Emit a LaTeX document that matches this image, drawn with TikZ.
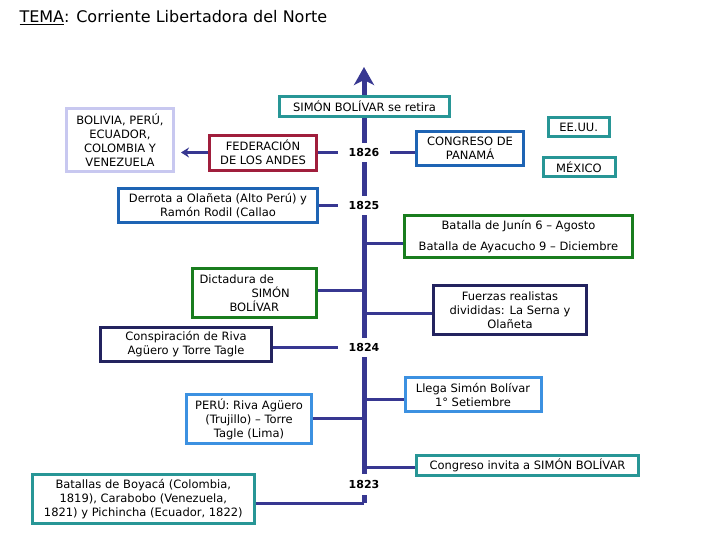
\documentclass[tikz,border=0pt]{standalone}
\usepackage{fontspec}
\setmainfont{DejaVu Sans}
\usetikzlibrary{arrows.meta}

\definecolor{ejeazul}{RGB}{55,55,145}
\definecolor{turquesa}{RGB}{40,150,150}
\definecolor{lavanda}{RGB}{200,200,240}
\definecolor{granate}{RGB}{160,30,60}
\definecolor{azul}{RGB}{30,100,180}
\definecolor{verde}{RGB}{25,125,30}
\definecolor{marino}{RGB}{35,35,95}
\definecolor{celeste}{RGB}{60,145,225}

\begin{document}
\begin{tikzpicture}[x=1pt,y=-1pt,
  caja/.style={draw,line width=3pt,fill=white,inner sep=0pt,align=center,
    font=\fontsize{11.5}{14}\selectfont},
  enlace/.style={draw=ejeazul,line width=3pt},
  anio/.style={fill=white,inner sep=0pt,minimum width=52pt,minimum height=19pt,
    font=\fontsize{11}{13}\selectfont\bfseries}]
  \useasboundingbox (0,0) rectangle (728,546);

  \node[anchor=base west,font=\fontsize{16}{19}\selectfont] (tema) at (16,23)
    {\underline{TEMA}: Corriente Libertadora del Norte};

  \coordinate (ejebase) at (364,503);
  \coordinate (ejetope) at (364,67);
  \coordinate (p1826) at (364,152);
  \coordinate (p1825) at (364,205);
  \coordinate (pjunin) at (364,243);
  \coordinate (pdicta) at (364,290);
  \coordinate (pfuerzas) at (364,313);
  \coordinate (p1824) at (364,347);
  \coordinate (pllega) at (364,399);
  \coordinate (pperu) at (364,418);
  \coordinate (pinvita) at (364,467.5);
  \coordinate (p1823) at (364,484);

  \draw[ejeazul,line width=5pt,-{Stealth[length=18pt,width=20pt,inset=5pt]}] (ejebase) -- (ejetope);

  \node[caja,draw=turquesa,minimum width=170pt,minimum height=20pt] (retira) at (364.5,106.5) {SIMÓN BOLÍVAR se retira};
  \node[caja,draw=lavanda,minimum width=107pt,minimum height=63pt] (bolivia) at (120,140)
    {BOLIVIA, PERÚ,\\ECUADOR,\\COLOMBIA Y\\VENEZUELA};
  \node[caja,draw=granate,minimum width=107pt,minimum height=35pt] (fed) at (263,152.5)
    {FEDERACIÓN\\DE LOS ANDES};
  \node[caja,draw=azul,minimum width=107pt,minimum height=34pt] (panama) at (470,148)
    {CONGRESO DE\\PANAMÁ};
  \node[caja,draw=turquesa,minimum width=61pt,minimum height=19pt] (eeuu) at (578.7,127) {EE.UU.};
  \node[caja,draw=turquesa,minimum width=72pt,minimum height=19pt] (mexico) at (579,167) {MÉXICO};
  \node[caja,draw=azul,minimum width=199pt,minimum height=34pt] (derrota) at (218,205.5)
    {Derrota a Olañeta (Alto Perú) y\\Ramón Rodil (Callao};
  \node[caja,draw=verde,minimum width=228pt,minimum height=42pt] (junin) at (518.5,236.5)
    {Batalla de Junín 6 – Agosto\\[7pt]Batalla de Ayacucho 9 – Diciembre};
  \node[caja,draw=verde,align=left,text width=110pt,inner xsep=7pt,minimum height=49pt] (dicta) at (254.5,293)
    {Dictadura de\\\hspace*{52pt}SIMÓN\\\hspace*{30pt}BOLÍVAR};
  \node[caja,draw=marino,minimum width=153pt,minimum height=49pt] (fuerzas) at (510,310)
    {Fuerzas realistas\\divididas: La Serna y\\Olañeta};
  \node[caja,draw=marino,minimum width=171pt,minimum height=34pt] (conspira) at (186,344)
    {Conspiración de Riva\\Agüero y Torre Tagle};
  \node[caja,draw=celeste,minimum width=136pt,minimum height=34pt] (llega) at (473,394.7)
    {Llega Simón Bolívar\\1° Setiembre};
  \node[caja,draw=celeste,minimum width=125pt,minimum height=49pt] (peru) at (249,419)
    {PERÚ: Riva Agüero\\(Trujillo) – Torre\\Tagle (Lima)};
  \node[caja,draw=turquesa,minimum width=222pt,minimum height=20pt] (invita) at (527.5,465.7)
    {Congreso invita a SIMÓN BOLÍVAR};
  \node[caja,draw=turquesa,minimum width=222pt,minimum height=49pt] (batallas) at (143.3,499)
    {Batallas de Boyacá (Colombia,\\1819), Carabobo (Venezuela,\\1821) y Pichincha (Ecuador, 1822)};

  \draw[enlace] (p1826) -- (p1826 -| fed.east);
  \draw[enlace] (p1826) -- (p1826 -| panama.west);
  \draw[enlace,-{Stealth[length=8pt,width=10pt]},shorten >=6pt] (fed.west) -- (fed.west -| bolivia.east);
  \draw[enlace] (p1825) -- (p1825 -| derrota.east);
  \draw[enlace] (pjunin) -- (pjunin -| junin.west);
  \draw[enlace] (pdicta) -- (pdicta -| dicta.east);
  \draw[enlace] (pfuerzas) -- (pfuerzas -| fuerzas.west);
  \draw[enlace] (p1824) -- (p1824 -| conspira.east);
  \draw[enlace] (pllega) -- (pllega -| llega.west);
  \draw[enlace] (pperu) -- (pperu -| peru.east);
  \draw[enlace] (pinvita) -- (pinvita -| invita.west);
  \draw[enlace] (ejebase) -- (ejebase -| batallas.east);

  \node[anio] (a1826) at (p1826) {1826};
  \node[anio] (a1825) at (p1825) {1825};
  \node[anio] (a1824) at (p1824) {1824};
  \node[anio,minimum height=21pt] (a1823) at (p1823) {1823};
\end{tikzpicture}
\end{document}
